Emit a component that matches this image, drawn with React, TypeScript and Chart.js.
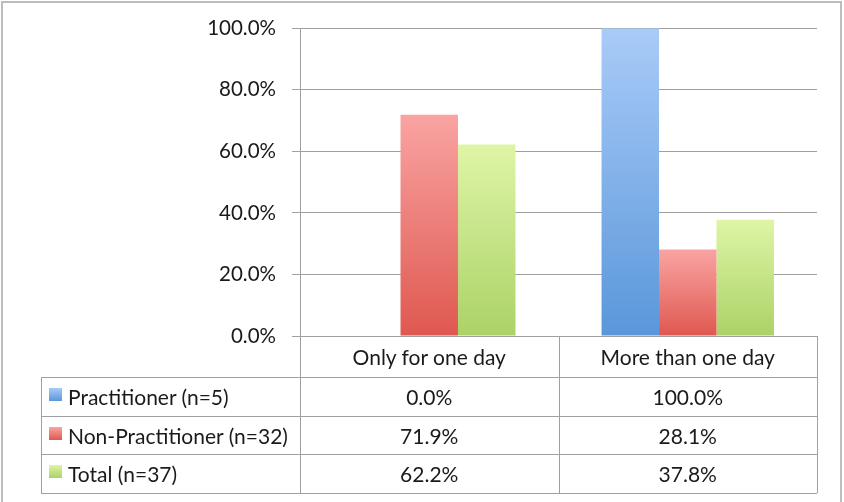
import React, { useEffect, useRef, useState } from 'react';
import { Chart, registerables } from 'chart.js';

Chart.register(...registerables);

const categories = ['Only for one day', 'More than one day'];
const seriesNames = ['Practitioner (n=5)', 'Non-Practitioner (n=32)', 'Total (n=37)'];
const practitioner = [0.0, 100.0];
const nonPractitioner = [71.9, 28.1];
const total = [62.2, 37.8];
const yMin = 0;
const yMax = 100;
const yStep = 20;

const seriesValues = [practitioner, nonPractitioner, total];
const topColors = ['#a9cbf8', '#f9a4a2', '#def5a6'];
const bottomColors = ['#5a97da', '#df5850', '#acd267'];
const FONT = 'Lato, "Open Sans", sans-serif';
const TEXT = '#1a1a1a';
const LINE = '#a0a0a0';

const W = 844;
const H = 502;
const HEADER_H = 41;
const ROW_H = 38.7;
const TABLE_LEFT = 41;

type Layout = { left: number; right: number; bottom: number; edges: number[]; centers: number[] };

export default function App() {
  const canvasRef = useRef<HTMLCanvasElement | null>(null);
  const [layout, setLayout] = useState<Layout | null>(null);

  useEffect(() => {
    const canvas = canvasRef.current;
    if (!canvas) return;
    const chart = new Chart(canvas, {
      type: 'bar',
      data: {
        labels: categories,
        datasets: seriesValues.map((vals, i) => ({
          label: seriesNames[i],
          data: vals,
          borderWidth: 0,
          backgroundColor: (ctx: any) => {
            const c = ctx.chart;
            const ys = c.scales && c.scales.y;
            if (!ys || ctx.raw === undefined) return bottomColors[i];
            const top = ys.getPixelForValue(ctx.raw);
            const bot = ys.getPixelForValue(0);
            if (!isFinite(top) || !isFinite(bot) || Math.abs(bot - top) < 1) return bottomColors[i];
            const g = c.ctx.createLinearGradient(0, top, 0, bot);
            g.addColorStop(0, topColors[i]);
            g.addColorStop(1, bottomColors[i]);
            return g;
          },
        })),
      },
      options: {
        responsive: false,
        animation: false,
        layout: { padding: { top: 28, right: 27, bottom: 166, left: 0 } },
        plugins: { legend: { display: false }, tooltip: { enabled: false } },
        datasets: { bar: { categoryPercentage: 0.667, barPercentage: 1.0 } },
        scales: {
          x: { display: false, grid: { display: false } },
          y: {
            min: yMin,
            max: yMax,
            afterFit: (scale: any) => {
              scale.width = 300;
            },
            ticks: {
              stepSize: yStep,
              padding: 16,
              color: TEXT,
              font: { family: FONT, size: 20.5 },
              callback: (v: any) => Number(v).toFixed(1) + '%',
            },
            grid: { color: LINE, lineWidth: 1, tickLength: 8, drawTicks: true },
            border: { display: true, color: LINE, width: 1 },
          },
        },
      },
    } as any);

    const ca = chart.chartArea;
    const xs: any = chart.scales.x;
    const centers = categories.map((_, i) => xs.getPixelForValue(i));
    const half = (ca.right - ca.left) / categories.length / 2;
    const edges = [ca.left, ...centers.map((c) => c + half)];
    setLayout({ left: ca.left, right: ca.right, bottom: ca.bottom, edges, centers });

    return () => chart.destroy();
  }, []);

  const cellText: React.CSSProperties = {
    position: 'absolute',
    fontFamily: FONT,
    fontSize: 21,
    color: TEXT,
    whiteSpace: 'nowrap',
    display: 'flex',
    alignItems: 'center',
  };

  const lines: React.ReactNode[] = [];
  const texts: React.ReactNode[] = [];
  if (layout) {
    const top = layout.bottom;
    const rowTops = [top + HEADER_H, ...seriesNames.map((_, i) => top + HEADER_H + ROW_H * (i + 1))];
    const tableBottom = rowTops[rowTops.length - 1];
    lines.push(
      <div key="hTop" style={{ position: 'absolute', left: layout.left, top: top, width: layout.right - layout.left, height: 0, borderTop: `1px solid ${LINE}` }} />
    );
    rowTops.forEach((y, i) => {
      lines.push(
        <div key={'h' + i} style={{ position: 'absolute', left: TABLE_LEFT, top: Math.round(y), width: layout.right - TABLE_LEFT, height: 0, borderTop: `1px solid ${LINE}` }} />
      );
    });
    lines.push(
      <div key="vL" style={{ position: 'absolute', left: TABLE_LEFT, top: Math.round(rowTops[0]), width: 0, height: Math.round(tableBottom) - Math.round(rowTops[0]), borderLeft: `1px solid ${LINE}` }} />
    );
    layout.edges.forEach((x, i) => {
      lines.push(
        <div key={'v' + i} style={{ position: 'absolute', left: Math.round(x), top: top, width: 0, height: Math.round(tableBottom) - top, borderLeft: `1px solid ${LINE}` }} />
      );
    });
    categories.forEach((c, i) => {
      texts.push(
        <div key={'c' + i} style={{ ...cellText, left: layout.edges[i], width: layout.edges[i + 1] - layout.edges[i], top: top, height: HEADER_H, justifyContent: 'center' }}>
          {c}
        </div>
      );
    });
    seriesNames.forEach((name, r) => {
      const y0 = rowTops[r];
      texts.push(
        <div key={'n' + r} style={{ ...cellText, left: TABLE_LEFT + 8, top: y0, height: ROW_H }}>
          <span
            style={{
              display: 'inline-block',
              width: 13,
              height: 13,
              marginRight: 6,
              marginTop: -4,
              background: `linear-gradient(${topColors[r]}, ${bottomColors[r]})`,
            }}
          />
          {name}
        </div>
      );
      seriesValues[r].forEach((v, ci) => {
        texts.push(
          <div key={'v' + r + '-' + ci} style={{ ...cellText, left: layout.edges[ci], width: layout.edges[ci + 1] - layout.edges[ci], top: y0, height: ROW_H, justifyContent: 'center' }}>
            {v.toFixed(1) + '%'}
          </div>
        );
      });
    });
  }

  return (
    <div style={{ position: 'fixed', left: 0, top: 0, width: W, height: H, background: '#fff', overflow: 'hidden' }}>
      <div style={{ position: 'absolute', left: 1, top: 1, width: 837, height: 520, border: '2px solid #bdbdbd' }} />
      <canvas ref={canvasRef} width={W} height={H} style={{ position: 'absolute', left: 0, top: 0 }} />
      {lines}
      {texts}
    </div>
  );
}
